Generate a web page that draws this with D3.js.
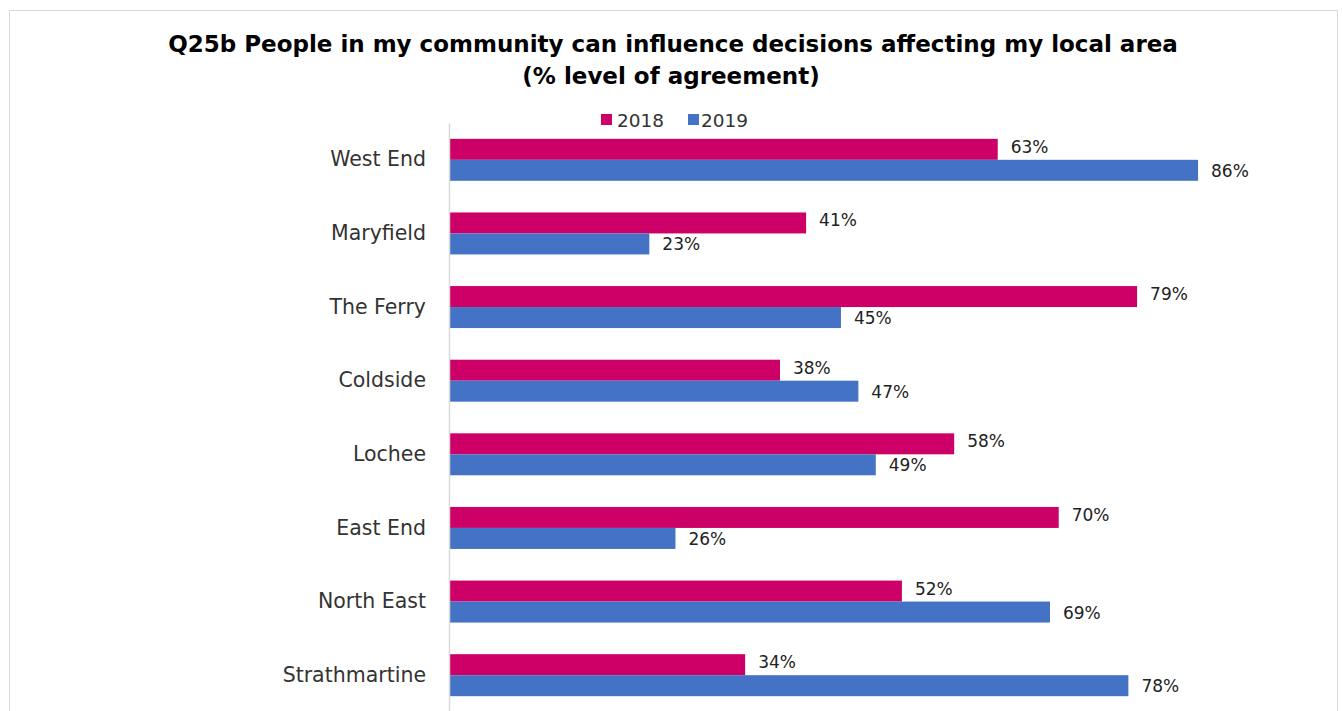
<!DOCTYPE html>
<html><head><meta charset="utf-8">
<script src="https://cdn.jsdelivr.net/npm/d3@7"></script>
<style>
html,body{margin:0;padding:0;background:#fff;}
svg{display:block;}
text{font-family:"DejaVu Sans","Lato",sans-serif;fill:#222;}
</style></head>
<body>
<svg id="chart" width="1343" height="711"></svg>
<script>
const categories = ["West End","Maryfield","The Ferry","Coldside","Lochee","East End","North East","Strathmartine"];
const seriesNames = ["2018","2019"];
const values2018 = [63,41,79,38,58,70,52,34];
const values2019 = [86,23,45,47,49,26,69,78];
const titleLines = ["Q25b People in my community can influence decisions affecting my local area","(% level of agreement)"];
const colors = {"2018":"#CC0066","2019":"#4472C4"};

const svg = d3.select("#chart");
// chart frame
svg.append("rect").attr("x",9.5).attr("y",10.5).attr("width",1328).attr("height",720)
  .attr("fill","#fff").attr("stroke","#d9d9d9").attr("stroke-width",1);

const plot = {left:449, right:1320, top:123, bottom:712};
const x = d3.scaleLinear().domain([0,100]).range([plot.left, plot.right]);
const y = d3.scaleBand().domain(categories).range([plot.top, plot.bottom]).paddingInner(0.43).paddingOuter(0.215);
const sub = d3.scaleBand().domain(seriesNames).range([0, y.bandwidth()]);

// title
svg.append("text").attr("x",673).attr("y",52).attr("text-anchor","middle")
  .style("font-weight","bold").style("font-size","23px").style("fill","#000").text(titleLines[0]);
svg.append("text").attr("x",671).attr("y",84).attr("text-anchor","middle")
  .style("font-weight","bold").style("font-size","23px").style("fill","#000").text(titleLines[1]);

// legend
const legendX = [601, 688];
const legendTextX = [617, 701];
seriesNames.forEach((s,i)=>{
  svg.append("rect").attr("x",legendX[i]).attr("y",114).attr("width",11).attr("height",11).attr("fill",colors[s]);
  svg.append("text").attr("x",legendTextX[i]).attr("y",127).style("font-size","18.5px").style("fill","#333").text(s);
});

const data = categories.map((c,i)=>({cat:c, vals:[{s:"2018",v:values2018[i]},{s:"2019",v:values2019[i]}]}));

const g = svg.append("g");
const groups = g.selectAll("g.grp").data(data).join("g").attr("class","grp")
  .attr("transform",d=>`translate(0,${y(d.cat)})`);
groups.selectAll("rect").data(d=>d.vals).join("rect")
  .attr("x",x(0)).attr("y",d=>sub(d.s)).attr("width",d=>x(d.v)-x(0)).attr("height",sub.bandwidth())
  .attr("fill",d=>colors[d.s]);
groups.selectAll("text.val").data(d=>d.vals).join("text").attr("class","val")
  .attr("x",d=>x(d.v)+13)
  .attr("y",d=>sub(d.s)+sub.bandwidth()/2+(d.s==="2018"?-1.5:1.5))
  .attr("dominant-baseline","middle")
  .style("font-size","17px").text(d=>d.v+"%");

// category axis
const axis = d3.axisLeft(y).tickSize(0).tickPadding(23);
const ax = svg.append("g").attr("transform",`translate(${plot.left},0)`).call(axis);
ax.select(".domain").attr("stroke","#d9d9d9").attr("stroke-width",1.5);
ax.selectAll(".tick text").style("font-size","20.5px").style("fill","#333")
  .style("font-family","'DejaVu Sans',sans-serif");
</script>
</body></html>
